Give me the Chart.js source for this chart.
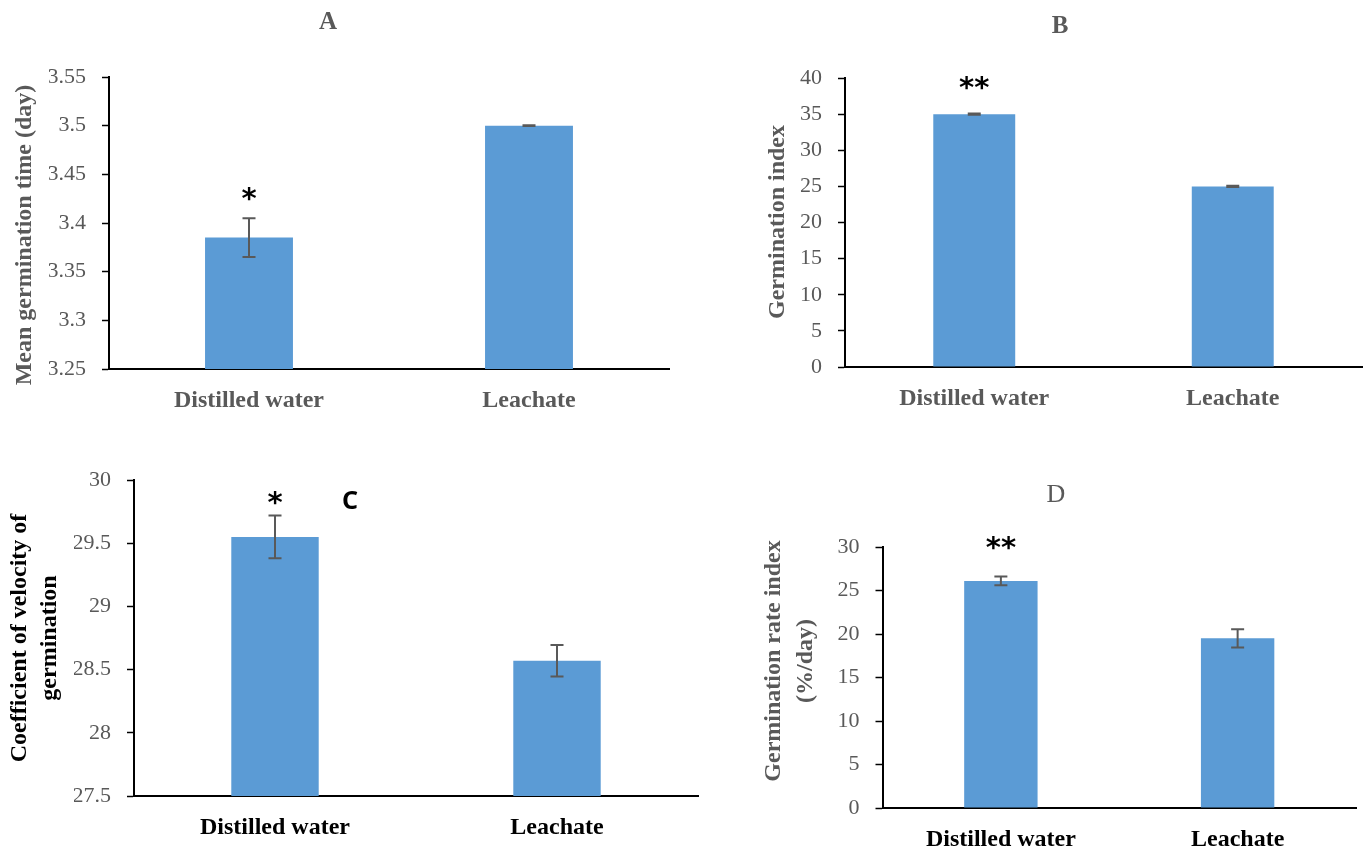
<!DOCTYPE html>
<html>
<head>
<meta charset="utf-8">
<script src="https://cdn.jsdelivr.net/npm/chart.js@4.4.1/dist/chart.umd.min.js"></script>
<style>
	html, body { margin: 0; padding: 0; background: #fff; }
	#wrap { position: relative; width: 1370px; height: 850px; overflow: hidden; }
	#wrap canvas { position: absolute; left: 0; top: 0; }
</style>
</head>
<body>
<div id="wrap">
	<canvas id="panelA" width="1370" height="850"></canvas>
	<canvas id="panelB" width="1370" height="850"></canvas>
	<canvas id="panelC" width="1370" height="850"></canvas>
	<canvas id="panelD" width="1370" height="850"></canvas>
</div>
<script>
// shared categories
const categories = ['Distilled water', 'Leachate'];

// A: mean germination time (day)
const mgtValues = [3.385, 3.5];
const mgtErrors = [0.02, 0.0004];
const mgtTicks = [3.25, 3.3, 3.35, 3.4, 3.45, 3.5, 3.55];
const mgtMarks = ['*', ''];
const mgtMarkAt = [3.43, null];

// B: germination index
const giValues = [35, 25];
const giErrors = [0.1, 0.1];
const giTicks = [0, 5, 10, 15, 20, 25, 30, 35, 40];
const giMarks = ['**', ''];
const giMarkAt = [39.4, null];

// C: coefficient of velocity of germination
const cvgValues = [29.55, 28.57];
const cvgErrors = [0.17, 0.125];
const cvgTicks = [27.5, 28, 28.5, 29, 29.5, 30];
const cvgMarks = ['*', ''];
const cvgMarkAt = [29.86, null];

// D: germination rate index (%/day)
const griValues = [26.1, 19.5];
const griErrors = [0.5, 1.05];
const griTicks = [0, 5, 10, 15, 20, 25, 30];
const griMarks = ['**', ''];
const griMarkAt = [30.5, null];

const SERIF = '"Liberation Serif", "Times New Roman", serif';
const GRAY = '#595959';
const BAR_BLUE = '#5B9BD5';

// error bars plus significance marks drawn over the bars
const errorBarsPlugin = {
	id: 'errorBars',
	afterDatasetsDraw(chart, args, opts) {
		const ctx = chart.ctx;
		const yScale = chart.scales.y;
		const data = chart.data.datasets[0].data;
		const meta = chart.getDatasetMeta(0);
		ctx.save();
		meta.data.forEach((bar, i) => {
			const top = yScale.getPixelForValue(data[i] + opts.errors[i]);
			const bot = yScale.getPixelForValue(data[i] - opts.errors[i]);
			ctx.strokeStyle = GRAY;
			ctx.lineWidth = 2;
			ctx.beginPath();
			ctx.moveTo(bar.x, top); ctx.lineTo(bar.x, bot);
			ctx.moveTo(bar.x - 6.5, top); ctx.lineTo(bar.x + 6.5, top);
			ctx.moveTo(bar.x - 6.5, bot); ctx.lineTo(bar.x + 6.5, bot);
			ctx.stroke();
			if (opts.marks[i]) {
				ctx.fillStyle = '#000';
				ctx.font = 'bold 29px "DejaVu Sans", sans-serif';
				ctx.textAlign = 'center';
				ctx.textBaseline = 'middle';
				ctx.fillText(opts.marks[i], bar.x, yScale.getPixelForValue(opts.markAt[i]) + 7);
			}
		});
		ctx.restore();
	}
};

// free text: panel letters and y axis titles
const panelTextPlugin = {
	id: 'panelText',
	afterDraw(chart, args, opts) {
		const ctx = chart.ctx;
		opts.items.forEach((item) => {
			ctx.save();
			ctx.translate(item.x, item.y);
			if (item.rotate) { ctx.rotate(-Math.PI / 2); }
			ctx.font = item.font;
			ctx.fillStyle = item.color;
			ctx.textAlign = 'center';
			ctx.textBaseline = 'middle';
			ctx.fillText(item.text, 0, 0);
			ctx.restore();
		});
	}
};

const Y_AXIS_W = 60;
const X_AXIS_H = 50;

function makePanel(id, p) {
	return new Chart(document.getElementById(id), {
		type: 'bar',
		data: {
			labels: categories,
			datasets: [{
				data: p.values,
				backgroundColor: BAR_BLUE,
				borderWidth: 0,
				categoryPercentage: p.barPct,
				barPercentage: 1
			}]
		},
		options: {
			responsive: false,
			animation: false,
			events: [],
			layout: {
				padding: {
					left: p.area.left - Y_AXIS_W,
					top: p.area.top,
					right: 1370 - p.area.right,
					bottom: 850 - p.area.bottom - X_AXIS_H
				}
			},
			plugins: {
				legend: { display: false },
				tooltip: { enabled: false },
				errorBars: { errors: p.errors, marks: p.marks, markAt: p.markAt },
				panelText: { items: p.texts }
			},
			scales: {
				x: {
					afterFit: (scale) => { scale.height = X_AXIS_H; },
					grid: { display: false, drawTicks: false },
					border: { display: true, color: '#000', width: 2 },
					ticks: {
						color: p.catColor,
						padding: 17,
						maxRotation: 0,
						font: { family: SERIF, size: 24, weight: 'bold' }
					}
				},
				y: {
					min: p.ticks[0],
					max: p.ticks[p.ticks.length - 1],
					afterFit: (scale) => { scale.width = Y_AXIS_W; },
					afterBuildTicks: (scale) => { scale.ticks = p.ticks.map((v) => ({ value: v })); },
					grid: {
						display: true,
						drawOnChartArea: false,
						drawTicks: true,
						tickLength: 7,
						tickColor: '#000',
						tickWidth: 1.5
					},
					border: { display: true, color: '#000', width: 2 },
					ticks: {
						color: GRAY,
						padding: 16,
						font: { family: SERIF, size: 22 },
						callback: (v) => String(parseFloat(Number(v).toFixed(2)))
					}
				}
			}
		},
		plugins: [errorBarsPlugin, panelTextPlugin]
	});
}

makePanel('panelA', {
	values: mgtValues, errors: mgtErrors, ticks: mgtTicks, marks: mgtMarks, markAt: mgtMarkAt,
	area: { left: 109, top: 77, right: 669, bottom: 369 },
	barPct: 0.314, catColor: GRAY,
	texts: [
		{ text: 'A', x: 328, y: 23, font: 'bold 25px ' + SERIF, color: GRAY },
		{ text: 'Mean germination time (day)', x: 25, y: 235, rotate: true, font: 'bold 24px ' + SERIF, color: GRAY }
	]
});

makePanel('panelB', {
	values: giValues, errors: giErrors, ticks: giTicks, marks: giMarks, markAt: giMarkAt,
	area: { left: 845, top: 78, right: 1362, bottom: 367 },
	barPct: 0.317, catColor: GRAY,
	texts: [
		{ text: 'B', x: 1060, y: 27, font: 'bold 25px ' + SERIF, color: GRAY },
		{ text: 'Germination index', x: 778, y: 222, rotate: true, font: 'bold 24px ' + SERIF, color: GRAY }
	]
});

makePanel('panelC', {
	values: cvgValues, errors: cvgErrors, ticks: cvgTicks, marks: cvgMarks, markAt: cvgMarkAt,
	area: { left: 134, top: 480, right: 698, bottom: 796 },
	barPct: 0.31, catColor: '#000',
	texts: [
		{ text: 'C', x: 350, y: 502, font: 'bold 25px "Noto Sans", sans-serif', color: '#000' },
		{ text: 'Coefficient of velocity of', x: 20, y: 638, rotate: true, font: 'bold 24px ' + SERIF, color: '#000' },
		{ text: 'germination', x: 50, y: 638, rotate: true, font: 'bold 24px ' + SERIF, color: '#000' }
	]
});

makePanel('panelD', {
	values: griValues, errors: griErrors, ticks: griTicks, marks: griMarks, markAt: griMarkAt,
	area: { left: 882.5, top: 547, right: 1356, bottom: 808 },
	barPct: 0.31, catColor: '#000',
	texts: [
		{ text: 'D', x: 1056, y: 495, font: '26px ' + SERIF, color: GRAY },
		{ text: 'Germination rate index', x: 774, y: 661, rotate: true, font: 'bold 24px ' + SERIF, color: GRAY },
		{ text: '(%/day)', x: 806, y: 661, rotate: true, font: 'bold 24px ' + SERIF, color: GRAY }
	]
});
</script>
</body>
</html>
